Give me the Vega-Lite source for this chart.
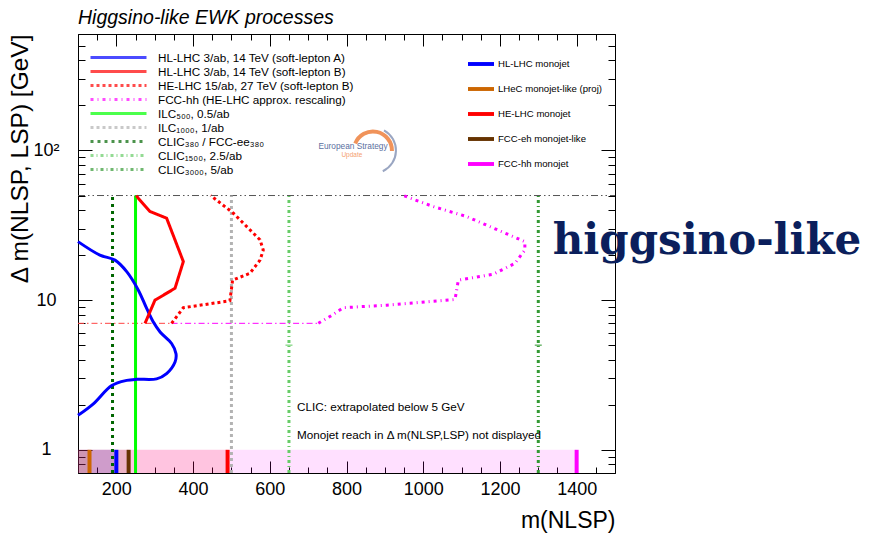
{
 "$schema": "https://vega.github.io/schema/vega-lite/v6.json",
 "width": 537, "height": 439,
 "autosize": "none",
 "padding": {"left": 78, "top": 34, "right": 260, "bottom": 61},
 "background": "white",
 "title": {"text": "Higgsino-like EWK processes", "anchor": "start", "frame": "group", "font": "Liberation Sans", "fontSize": 19.5, "fontStyle": "italic", "fontWeight": "normal", "color": "#000", "offset": -3},
 "config": {"view": {"stroke": "#000", "strokeWidth": 1}, "font": "Liberation Sans"},
 "datasets": {
  "bands": [
   {"band": "FCC-hh monojet", "m0": 100, "m1": 1400, "dm0": 0.7, "dm1": 1},
   {"band": "HE-LHC monojet", "m0": 100, "m1": 490, "dm0": 0.7, "dm1": 1},
   {"band": "FCC-eh monojet-like", "m0": 100, "m1": 232, "dm0": 0.7, "dm1": 1},
   {"band": "HL-LHC monojet", "m0": 100, "m1": 200, "dm0": 0.7, "dm1": 1},
   {"band": "LHeC monojet-like (proj)", "m0": 100, "m1": 130, "dm0": 0.7, "dm1": 1}
  ],
  "hlines": [
   {"line": "top", "m0": 100, "m1": 1500, "dm": 50},
   {"line": "red", "m0": 100, "m1": 344, "dm": 7},
   {"line": "mag", "m0": 344, "m1": 726.5, "dm": 7}
  ],
  "vlines": [
   {"series": "ILC₅₀₀, 0.5/ab", "m": 250, "dm0": 0.7, "dm1": 50},
   {"series": "ILC₁₀₀₀, 1/ab", "m": 500, "dm0": 0.7, "dm1": 50},
   {"series": "CLIC₃₈₀ / FCC-ee₃₈₀", "m": 190, "dm0": 0.7, "dm1": 50},
   {"series": "CLIC₁₅₀₀, 2.5/ab", "m": 650, "dm0": 0.7, "dm1": 50},
   {"series": "CLIC₃₀₀₀, 5/ab", "m": 1300, "dm0": 0.7, "dm1": 50}
  ],
  "markers": [
   {"series": "CLIC₁₅₀₀, 2.5/ab", "m": 650, "dm": 5},
   {"series": "CLIC₃₀₀₀, 5/ab", "m": 1300, "dm": 5}
  ],
  "curves": [
   {"series": "HL-LHC 3/ab, 14 TeV (soft-lepton A)", "o": 1, "m": 100, "dm": 1.70},
   {"series": "HL-LHC 3/ab, 14 TeV (soft-lepton A)", "o": 2, "m": 140, "dm": 2.03},
   {"series": "HL-LHC 3/ab, 14 TeV (soft-lepton A)", "o": 3, "m": 188, "dm": 2.69},
   {"series": "HL-LHC 3/ab, 14 TeV (soft-lepton A)", "o": 4, "m": 227, "dm": 2.91},
   {"series": "HL-LHC 3/ab, 14 TeV (soft-lepton A)", "o": 5, "m": 253, "dm": 2.96},
   {"series": "HL-LHC 3/ab, 14 TeV (soft-lepton A)", "o": 6, "m": 305, "dm": 2.98},
   {"series": "HL-LHC 3/ab, 14 TeV (soft-lepton A)", "o": 7, "m": 331, "dm": 3.23},
   {"series": "HL-LHC 3/ab, 14 TeV (soft-lepton A)", "o": 8, "m": 353, "dm": 3.86},
   {"series": "HL-LHC 3/ab, 14 TeV (soft-lepton A)", "o": 9, "m": 355.5, "dm": 4.39},
   {"series": "HL-LHC 3/ab, 14 TeV (soft-lepton A)", "o": 10, "m": 344, "dm": 5.13},
   {"series": "HL-LHC 3/ab, 14 TeV (soft-lepton A)", "o": 11, "m": 314, "dm": 6.13},
   {"series": "HL-LHC 3/ab, 14 TeV (soft-lepton A)", "o": 12, "m": 296, "dm": 7.16},
   {"series": "HL-LHC 3/ab, 14 TeV (soft-lepton A)", "o": 13, "m": 279, "dm": 8.8},
   {"series": "HL-LHC 3/ab, 14 TeV (soft-lepton A)", "o": 14, "m": 257, "dm": 11.7},
   {"series": "HL-LHC 3/ab, 14 TeV (soft-lepton A)", "o": 15, "m": 227, "dm": 15.5},
   {"series": "HL-LHC 3/ab, 14 TeV (soft-lepton A)", "o": 16, "m": 196.5, "dm": 18.5},
   {"series": "HL-LHC 3/ab, 14 TeV (soft-lepton A)", "o": 17, "m": 157, "dm": 20.0},
   {"series": "HL-LHC 3/ab, 14 TeV (soft-lepton A)", "o": 18, "m": 100, "dm": 24.6},
   {"series": "HL-LHC 3/ab, 14 TeV (soft-lepton B)", "o": 1, "m": 274.7, "dm": 7.0},
   {"series": "HL-LHC 3/ab, 14 TeV (soft-lepton B)", "o": 2, "m": 300.7, "dm": 10.0},
   {"series": "HL-LHC 3/ab, 14 TeV (soft-lepton B)", "o": 3, "m": 352.9, "dm": 12.0},
   {"series": "HL-LHC 3/ab, 14 TeV (soft-lepton B)", "o": 4, "m": 374.6, "dm": 18.1},
   {"series": "HL-LHC 3/ab, 14 TeV (soft-lepton B)", "o": 5, "m": 331, "dm": 35.3},
   {"series": "HL-LHC 3/ab, 14 TeV (soft-lepton B)", "o": 6, "m": 287.7, "dm": 39.1},
   {"series": "HL-LHC 3/ab, 14 TeV (soft-lepton B)", "o": 7, "m": 257, "dm": 48},
   {"series": "HL-LHC 3/ab, 14 TeV (soft-lepton B)", "o": 8, "m": 252, "dm": 50},
   {"series": "HE-LHC 15/ab, 27 TeV (soft-lepton B)", "o": 1, "m": 344, "dm": 7.0},
   {"series": "HE-LHC 15/ab, 27 TeV (soft-lepton B)", "o": 2, "m": 374.6, "dm": 8.9},
   {"series": "HE-LHC 15/ab, 27 TeV (soft-lepton B)", "o": 3, "m": 496, "dm": 9.9},
   {"series": "HE-LHC 15/ab, 27 TeV (soft-lepton B)", "o": 4, "m": 503, "dm": 13.6},
   {"series": "HE-LHC 15/ab, 27 TeV (soft-lepton B)", "o": 5, "m": 548, "dm": 15.1},
   {"series": "HE-LHC 15/ab, 27 TeV (soft-lepton B)", "o": 6, "m": 574.5, "dm": 18.5},
   {"series": "HE-LHC 15/ab, 27 TeV (soft-lepton B)", "o": 7, "m": 583, "dm": 21.6},
   {"series": "HE-LHC 15/ab, 27 TeV (soft-lepton B)", "o": 8, "m": 574.5, "dm": 25.3},
   {"series": "HE-LHC 15/ab, 27 TeV (soft-lepton B)", "o": 9, "m": 540, "dm": 31},
   {"series": "HE-LHC 15/ab, 27 TeV (soft-lepton B)", "o": 10, "m": 505, "dm": 38.1},
   {"series": "HE-LHC 15/ab, 27 TeV (soft-lepton B)", "o": 11, "m": 446, "dm": 50},
   {"series": "FCC-hh (HE-LHC approx. rescaling)", "o": 1, "m": 726.5, "dm": 7.0},
   {"series": "FCC-hh (HE-LHC approx. rescaling)", "o": 2, "m": 761, "dm": 7.9},
   {"series": "FCC-hh (HE-LHC approx. rescaling)", "o": 3, "m": 791.7, "dm": 8.9},
   {"series": "FCC-hh (HE-LHC approx. rescaling)", "o": 4, "m": 905, "dm": 9.26},
   {"series": "FCC-hh (HE-LHC approx. rescaling)", "o": 5, "m": 1083, "dm": 10.1},
   {"series": "FCC-hh (HE-LHC approx. rescaling)", "o": 6, "m": 1091.5, "dm": 13.6},
   {"series": "FCC-hh (HE-LHC approx. rescaling)", "o": 7, "m": 1182.7, "dm": 14.9},
   {"series": "FCC-hh (HE-LHC approx. rescaling)", "o": 8, "m": 1239, "dm": 17.6},
   {"series": "FCC-hh (HE-LHC approx. rescaling)", "o": 9, "m": 1265, "dm": 21.6},
   {"series": "FCC-hh (HE-LHC approx. rescaling)", "o": 10, "m": 1265, "dm": 24.6},
   {"series": "FCC-hh (HE-LHC approx. rescaling)", "o": 11, "m": 1113, "dm": 36.2},
   {"series": "FCC-hh (HE-LHC approx. rescaling)", "o": 12, "m": 1026, "dm": 42.2},
   {"series": "FCC-hh (HE-LHC approx. rescaling)", "o": 13, "m": 948, "dm": 50}
  ]
 },
 "resolve": {"axis": {"x": "independent", "y": "independent"}},
 "layer": [
  {
   "data": {"name": "bands"},
   "mark": {"type": "rect", "fillOpacity": 0.12},
   "encoding": {
    "x": {"field": "m0", "type": "quantitative", "scale": {"domain": [100, 1500], "nice": false, "zero": false},
     "axis": {"orient": "bottom", "values": [100,150,200,250,300,350,400,450,500,550,600,650,700,750,800,850,900,950,1000,1050,1100,1150,1200,1250,1300,1350,1400,1450,1500], "format": "d",
      "labelExpr": "datum.value % 200 === 0 ? datum.label : ''",
      "tickSize": {"condition": {"test": "datum.value % 200 === 0", "value": -12}, "value": -6},
      "tickColor": "#000", "domain": false, "grid": false,
      "labelFontSize": 18, "labelColor": "#000", "labelPadding": 19, "labelFlush": false, "labelOverlap": false, "labelBound": false,
      "title": "m(NLSP)", "titleFontSize": 23, "titleFontWeight": "normal", "titleColor": "#000", "titleAnchor": "end", "titlePadding": 5}},
    "x2": {"field": "m1"},
    "y": {"field": "dm0", "type": "quantitative", "scale": {"type": "log", "domain": [0.7, 600], "nice": false},
     "axis": {"orient": "left", "values": [0.7,0.8,0.9,1,2,3,4,5,6,7,8,9,10,20,30,40,50,60,70,80,90,100,200,300,400,500,600],
      "labelExpr": "datum.value === 1 ? '1' : datum.value === 10 ? '10' : datum.value === 100 ? '10²' : ''",
      "tickSize": {"condition": {"test": "datum.value === 1 || datum.value === 10 || datum.value === 100", "value": -14}, "value": -7},
      "tickColor": "#000", "domain": false, "grid": false,
      "labelFontSize": 18, "labelColor": "#000", "labelPadding": 46, "labelAlign": "center", "labelFlush": false, "labelOverlap": false, "labelBound": false,
      "title": "Δ m(NLSP, LSP) [GeV]", "titleFontSize": 24.5, "titleFontWeight": "normal", "titleColor": "#000", "titleAnchor": "end", "titlePadding": 0}},
    "y2": {"field": "dm1"},
    "fill": {"field": "band", "type": "nominal",
     "scale": {"domain": ["HL-LHC monojet", "LHeC monojet-like (proj)", "HE-LHC monojet", "FCC-eh monojet-like", "FCC-hh monojet"], "range": ["#0000ff", "#cc6600", "#ff0000", "#663300", "#ff00ff"]},
     "legend": {"orient": "none", "legendX": 390, "legendY": 17, "title": null, "symbolType": "M-1,-0.15H1V0.15H-1Z", "symbolSize": 676, "symbolStrokeWidth": 0, "symbolOpacity": 1, "labelFontSize": 9.6, "labelColor": "#000", "labelOffset": 4, "rowPadding": 7, "padding": 0,
      "encode": {"symbols": {"update": {"fillOpacity": {"value": 1}, "opacity": {"value": 1}}}}}}
   }
  },
  {
   "data": {"name": "bands"},
   "mark": {"type": "rule", "strokeWidth": 4},
   "encoding": {
    "x": {"field": "m1", "type": "quantitative", "axis": null},
    "y": {"field": "dm0", "type": "quantitative", "axis": null},
    "y2": {"field": "dm1"},
    "stroke": {"field": "band", "type": "nominal",
     "scale": {"domain": ["HL-LHC monojet", "LHeC monojet-like (proj)", "HE-LHC monojet", "FCC-eh monojet-like", "FCC-hh monojet"], "range": ["#0000ff", "#cc6600", "#ff0000", "#663300", "#ff00ff"]},
     "legend": null}
   }
  },
  {
   "data": {"name": "hlines"},
   "transform": [{"filter": "datum.line === 'top'"}],
   "mark": {"type": "rule", "color": "#555555", "strokeWidth": 1, "strokeDash": [7, 3, 1.5, 3, 1.5, 3]},
   "encoding": {
    "x": {"field": "m0", "type": "quantitative",
     "axis": {"orient": "top", "values": [100,150,200,250,300,350,400,450,500,550,600,650,700,750,800,850,900,950,1000,1050,1100,1150,1200,1250,1300,1350,1400,1450,1500], "labels": false, "title": null,
      "tickSize": {"condition": {"test": "datum.value % 200 === 0", "value": -12}, "value": -6}, "tickColor": "#000", "domain": false, "grid": false}},
    "x2": {"field": "m1"},
    "y": {"field": "dm", "type": "quantitative",
     "axis": {"orient": "right", "values": [0.7,0.8,0.9,1,2,3,4,5,6,7,8,9,10,20,30,40,50,60,70,80,90,100,200,300,400,500,600], "labels": false, "title": null,
      "tickSize": {"condition": {"test": "datum.value === 1 || datum.value === 10 || datum.value === 100", "value": -14}, "value": -7}, "tickColor": "#000", "domain": false, "grid": false}}
   }
  },
  {
   "data": {"name": "hlines"},
   "transform": [{"filter": "datum.line === 'red'"}],
   "mark": {"type": "rule", "color": "#ff4444", "strokeWidth": 1, "strokeDash": [6, 3, 1.5, 3]},
   "encoding": {"x": {"field": "m0", "type": "quantitative", "axis": null}, "x2": {"field": "m1"}, "y": {"field": "dm", "type": "quantitative", "axis": null}}
  },
  {
   "data": {"name": "hlines"},
   "transform": [{"filter": "datum.line === 'mag'"}],
   "mark": {"type": "rule", "color": "#ff00ff", "strokeWidth": 1, "strokeDash": [6, 3, 1.5, 3]},
   "encoding": {"x": {"field": "m0", "type": "quantitative", "axis": null}, "x2": {"field": "m1"}, "y": {"field": "dm", "type": "quantitative", "axis": null}}
  },
  {
   "data": {"name": "vlines"},
   "mark": {"type": "rule", "strokeWidth": 3},
   "encoding": {
    "x": {"field": "m", "type": "quantitative", "axis": null},
    "y": {"field": "dm0", "type": "quantitative", "axis": null},
    "y2": {"field": "dm1"},
    "color": {"field": "series", "type": "nominal",
     "scale": {"domain": ["HL-LHC 3/ab, 14 TeV (soft-lepton A)", "HL-LHC 3/ab, 14 TeV (soft-lepton B)", "HE-LHC 15/ab, 27 TeV (soft-lepton B)", "FCC-hh (HE-LHC approx. rescaling)", "ILC₅₀₀, 0.5/ab", "ILC₁₀₀₀, 1/ab", "CLIC₃₈₀ / FCC-ee₃₈₀", "CLIC₁₅₀₀, 2.5/ab", "CLIC₃₀₀₀, 5/ab"],
      "range": ["#0000ff", "#ff0000", "#ff0000", "#ff00ff", "#00ff00", "#b3b3b3", "#006600", "#66cc66", "#339933"]},
     "legend": {"orient": "none", "legendX": 34, "legendY": 17, "title": null, "symbolType": "M-5.6,0H5.6", "symbolSize": 100, "symbolStrokeWidth": 3, "labelFontSize": 11.7, "labelColor": "#000", "labelOffset": 33, "rowPadding": 0, "padding": 0, "labelLimit": 400}},
    "strokeDash": {"field": "series", "type": "nominal",
     "scale": {"domain": ["HL-LHC 3/ab, 14 TeV (soft-lepton A)", "HL-LHC 3/ab, 14 TeV (soft-lepton B)", "HE-LHC 15/ab, 27 TeV (soft-lepton B)", "FCC-hh (HE-LHC approx. rescaling)", "ILC₅₀₀, 0.5/ab", "ILC₁₀₀₀, 1/ab", "CLIC₃₈₀ / FCC-ee₃₈₀", "CLIC₁₅₀₀, 2.5/ab", "CLIC₃₀₀₀, 5/ab"],
      "range": [[1, 0], [1, 0], [3, 3], [3, 4, 1, 4], [1, 0], [3, 3], [3, 4], [3, 3, 1, 3], [3, 3, 1, 3]]},
     "legend": {"orient": "none", "legendX": 34, "legendY": 17, "title": null, "symbolType": "M-5.6,0H5.6", "symbolSize": 100, "symbolStrokeWidth": 3, "labelFontSize": 11.7, "labelColor": "#000", "labelOffset": 33, "rowPadding": 0, "padding": 0, "labelLimit": 400}}
   }
  },
  {
   "data": {"name": "curves"},
   "transform": [{"filter": "datum.series === 'HL-LHC 3/ab, 14 TeV (soft-lepton A)'"}],
   "mark": {"type": "line", "strokeWidth": 3, "interpolate": "catmull-rom"},
   "encoding": {
    "x": {"field": "m", "type": "quantitative", "axis": null},
    "y": {"field": "dm", "type": "quantitative", "axis": null},
    "order": {"field": "o", "type": "quantitative"},
    "color": {"field": "series", "type": "nominal",
     "scale": {"domain": ["HL-LHC 3/ab, 14 TeV (soft-lepton A)", "HL-LHC 3/ab, 14 TeV (soft-lepton B)", "HE-LHC 15/ab, 27 TeV (soft-lepton B)", "FCC-hh (HE-LHC approx. rescaling)", "ILC₅₀₀, 0.5/ab", "ILC₁₀₀₀, 1/ab", "CLIC₃₈₀ / FCC-ee₃₈₀", "CLIC₁₅₀₀, 2.5/ab", "CLIC₃₀₀₀, 5/ab"],
      "range": ["#0000ff", "#ff0000", "#ff0000", "#ff00ff", "#00ff00", "#b3b3b3", "#006600", "#66cc66", "#339933"]},
     "legend": {"orient": "none", "legendX": 34, "legendY": 17, "title": null, "symbolType": "M-5.6,0H5.6", "symbolSize": 100, "symbolStrokeWidth": 3, "labelFontSize": 11.7, "labelColor": "#000", "labelOffset": 33, "rowPadding": 0, "padding": 0, "labelLimit": 400}}
   }
  },
  {
   "data": {"name": "curves"},
   "transform": [{"filter": "datum.series !== 'HL-LHC 3/ab, 14 TeV (soft-lepton A)'"}],
   "mark": {"type": "line", "strokeWidth": 3},
   "encoding": {
    "x": {"field": "m", "type": "quantitative", "axis": null},
    "y": {"field": "dm", "type": "quantitative", "axis": null},
    "order": {"field": "o", "type": "quantitative"},
    "color": {"field": "series", "type": "nominal",
     "scale": {"domain": ["HL-LHC 3/ab, 14 TeV (soft-lepton A)", "HL-LHC 3/ab, 14 TeV (soft-lepton B)", "HE-LHC 15/ab, 27 TeV (soft-lepton B)", "FCC-hh (HE-LHC approx. rescaling)", "ILC₅₀₀, 0.5/ab", "ILC₁₀₀₀, 1/ab", "CLIC₃₈₀ / FCC-ee₃₈₀", "CLIC₁₅₀₀, 2.5/ab", "CLIC₃₀₀₀, 5/ab"],
      "range": ["#0000ff", "#ff0000", "#ff0000", "#ff00ff", "#00ff00", "#b3b3b3", "#006600", "#66cc66", "#339933"]},
     "legend": {"orient": "none", "legendX": 34, "legendY": 17, "title": null, "symbolType": "M-5.6,0H5.6", "symbolSize": 100, "symbolStrokeWidth": 3, "labelFontSize": 11.7, "labelColor": "#000", "labelOffset": 33, "rowPadding": 0, "padding": 0, "labelLimit": 400}},
    "strokeDash": {"field": "series", "type": "nominal",
     "scale": {"domain": ["HL-LHC 3/ab, 14 TeV (soft-lepton A)", "HL-LHC 3/ab, 14 TeV (soft-lepton B)", "HE-LHC 15/ab, 27 TeV (soft-lepton B)", "FCC-hh (HE-LHC approx. rescaling)", "ILC₅₀₀, 0.5/ab", "ILC₁₀₀₀, 1/ab", "CLIC₃₈₀ / FCC-ee₃₈₀", "CLIC₁₅₀₀, 2.5/ab", "CLIC₃₀₀₀, 5/ab"],
      "range": [[1, 0], [1, 0], [3, 3], [3, 4, 1, 4], [1, 0], [3, 3], [3, 4], [3, 3, 1, 3], [3, 3, 1, 3]]},
     "legend": {"orient": "none", "legendX": 34, "legendY": 17, "title": null, "symbolType": "M-5.6,0H5.6", "symbolSize": 100, "symbolStrokeWidth": 3, "labelFontSize": 11.7, "labelColor": "#000", "labelOffset": 33, "rowPadding": 0, "padding": 0, "labelLimit": 400}}
   }
  },
  {
   "data": {"name": "markers"},
   "mark": {"type": "tick", "orient": "horizontal", "size": 7, "thickness": 1.5},
   "encoding": {
    "x": {"field": "m", "type": "quantitative", "axis": null},
    "y": {"field": "dm", "type": "quantitative", "axis": null},
    "color": {"field": "series", "type": "nominal",
     "scale": {"domain": ["HL-LHC 3/ab, 14 TeV (soft-lepton A)", "HL-LHC 3/ab, 14 TeV (soft-lepton B)", "HE-LHC 15/ab, 27 TeV (soft-lepton B)", "FCC-hh (HE-LHC approx. rescaling)", "ILC₅₀₀, 0.5/ab", "ILC₁₀₀₀, 1/ab", "CLIC₃₈₀ / FCC-ee₃₈₀", "CLIC₁₅₀₀, 2.5/ab", "CLIC₃₀₀₀, 5/ab"],
      "range": ["#0000ff", "#ff0000", "#ff0000", "#ff00ff", "#00ff00", "#b3b3b3", "#006600", "#66cc66", "#339933"]},
     "legend": {"orient": "none", "legendX": 34, "legendY": 17, "title": null, "symbolType": "M-5.6,0H5.6", "symbolSize": 100, "symbolStrokeWidth": 3, "labelFontSize": 11.7, "labelColor": "#000", "labelOffset": 33, "rowPadding": 0, "padding": 0, "labelLimit": 400}}
   }
  },
  {
   "data": {"values": [{}]},
   "mark": {"type": "text", "text": "CLIC: extrapolated below 5 GeV", "align": "left", "baseline": "middle", "fontSize": 11.7, "color": "#000"},
   "encoding": {"x": {"datum": 671, "type": "quantitative", "axis": null}, "y": {"datum": 1.92, "type": "quantitative", "axis": null}}
  },
  {
   "data": {"values": [{}]},
   "mark": {"type": "text", "text": "Monojet reach in Δ m(NLSP,LSP) not displayed", "align": "left", "baseline": "middle", "fontSize": 11.7, "color": "#000"},
   "encoding": {"x": {"datum": 671, "type": "quantitative", "axis": null}, "y": {"datum": 1.26, "type": "quantitative", "axis": null}}
  },
  {
   "data": {"values": [{}]},
   "mark": {"type": "text", "text": "higgsino-like", "align": "center", "baseline": "alphabetic", "font": "DejaVu Serif", "fontWeight": "bold", "fontSize": 42, "color": "#0b1f5c"},
   "encoding": {"x": {"datum": 1740, "type": "quantitative", "axis": null}, "y": {"datum": 20.3, "type": "quantitative", "axis": null}}
  },
  {
   "data": {"values": [{}]},
   "mark": {"type": "arc", "radius": 21, "radius2": 17, "theta": -1.2, "theta2": 1.6, "color": "#f0935a"},
   "encoding": {"x": {"datum": 869, "type": "quantitative", "axis": null}, "y": {"datum": 100, "type": "quantitative", "axis": null}}
  },
  {
   "data": {"values": [{}]},
   "mark": {"type": "arc", "radius": 24, "radius2": 22, "theta": 0.5, "theta2": 2.7, "color": "#9aa6c2"},
   "encoding": {"x": {"datum": 869, "type": "quantitative", "axis": null}, "y": {"datum": 100, "type": "quantitative", "axis": null}}
  },
  {
   "data": {"values": [{}]},
   "mark": {"type": "text", "text": "European Strategy", "align": "center", "baseline": "middle", "fontSize": 8.3, "color": "#5b6fa0"},
   "encoding": {"x": {"datum": 817, "type": "quantitative", "axis": null}, "y": {"datum": 105, "type": "quantitative", "axis": null}}
  },
  {
   "data": {"values": [{}]},
   "mark": {"type": "text", "text": "Update", "align": "center", "baseline": "middle", "fontSize": 6.5, "color": "#f4a070"},
   "encoding": {"x": {"datum": 814, "type": "quantitative", "axis": null}, "y": {"datum": 93, "type": "quantitative", "axis": null}}
  }
 ]
}
